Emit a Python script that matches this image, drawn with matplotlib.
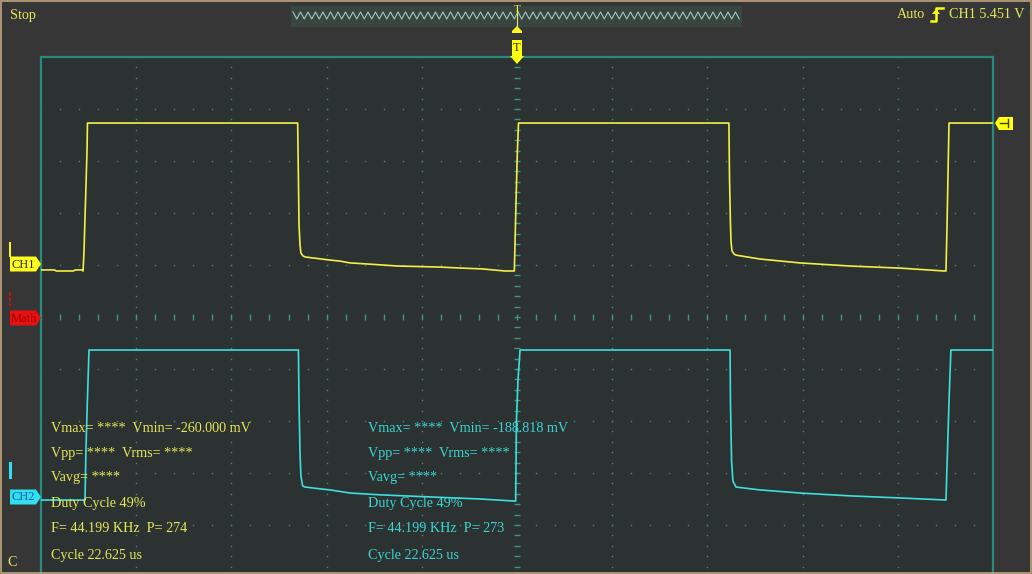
import numpy as np
import matplotlib.pyplot as plt
from matplotlib.patches import Polygon, Rectangle

W, H = 1032, 574

# scope settings
time_per_div = 5.0     # us / div
volts_per_div = 2.0    # V / div
ch1_offset = 1.0       # divisions above screen centre
ch2_offset = -3.48

# CH1 trace: time (us, trigger at 0) and volts
ch1_t = [-25.0, -24.3, -24.2, -23.3, -23.2, -22.85, -22.79, -22.74, -22.69, -22.64,
         -22.58, -22.56, -11.52, -11.48, -11.45, -11.40, -11.35, -11.24, -11.13,
         -10.71, -9.82, -9.30, -8.77, -7.88, -6.25, -4.04, -2.89, -1.84, -0.63,
         -0.14, -0.05, 0.02, 0.08, 11.13, 11.16, 11.21, 11.24, 11.29, 11.40, 11.50,
         12.76, 14.86, 17.49, 20.12, 22.43, 22.53, 22.58, 22.64, 22.69, 25.0]
ch1_v = [-0.19, -0.19, -0.23, -0.23, -0.19, -0.19, -0.23, 0.54, 1.81, 2.96,
         4.50, 5.46, 5.46, 3.35, 1.58, 0.81, 0.46, 0.35, 0.31,
         0.27, 0.19, 0.15, 0.08, 0.04, -0.04, -0.08, -0.12, -0.15, -0.23,
         -0.23, 2.46, 4.38, 5.46, 5.46, 3.40, 1.60, 0.90, 0.55, 0.42, 0.38,
         0.23, 0.08, -0.04, -0.12, -0.23, -0.23, 1.31, 3.62, 5.46, 5.46]

# CH2 trace
ch2_t = [-25.0, -22.72, -22.69, -22.64, -22.58, -22.53, -22.48, -11.48, -11.45,
         -11.40, -11.35, -11.26, -11.13, -10.35, -9.82, -8.77, -7.20, -4.57, -1.94,
         -0.11, -0.07, -0.03, 0.05, 0.16, 11.19, 11.21, 11.27, 11.34, 11.50, 12.76,
         14.86, 17.49, 20.12, 22.53, 22.61, 22.69, 22.79, 25.0]
ch2_v = [-0.08, -0.08, -0.08, 1.81, 3.35, 4.50, 5.69, 5.69, 3.73,
         1.81, 0.85, 0.46, 0.42, 0.35, 0.31, 0.19, 0.12, 0.04, -0.04,
         -0.12, -0.12, 2.96, 4.50, 5.69, 5.69, 3.73, 1.42, 0.65, 0.42, 0.31,
         0.19, 0.08, 0.00, -0.08, 1.81, 3.73, 5.69, 5.69]

meas_ch1 = ["Vmax= ****  Vmin= -260.000 mV", "Vpp= ****  Vrms= ****", "Vavg= ****",
            "Duty Cycle 49%", "F= 44.199 KHz  P= 274", "Cycle 22.625 us"]
meas_ch2 = ["Vmax= ****  Vmin= -188.818 mV", "Vpp= ****  Vrms= ****", "Vavg= ****",
            "Duty Cycle 49%", "F= 44.199 KHz  P= 273", "Cycle 22.625 us"]
meas_rows = [428, 453, 478, 504, 529, 555]

status_text = "Stop"
trig_text = "CH1 5.451 V"

FONT = "Liberation Serif"
FS = 10.2
YEL_TXT = "#e6e65a"
CYAN_TXT = "#3cd4d4"
YEL = "#f0f048"
CYAN = "#3ce0e0"
TEAL = "#2b8a80"
DOT = "#46857e"

fig = plt.figure(figsize=(W / 100, H / 100), dpi=100, facecolor="#363636")

# screen area: 10 x 10 divisions, bottom row cut by the image edge
ax = fig.add_axes([41 / W, 0, 952 / W, 517 / H])
ax.set_facecolor("#2c3232")
ax.set_xlim(-5, 5)
ax.set_ylim(5 - 517 / 52, 5)
ax.set_xticks([])
ax.set_yticks([])
for side in ["left", "right", "top"]:
    ax.spines[side].set_color(TEAL)
    ax.spines[side].set_linewidth(1.6)
ax.spines["bottom"].set_visible(False)

# dotted graticule
steps = np.arange(-25, 26) * 0.2
for g in range(-4, 5):
    if g == 0:
        continue
    ax.plot(np.full_like(steps, g), steps, ls="none", marker="s", ms=1.0, mew=0, color=DOT)
    ax.plot(steps, np.full_like(steps, g), ls="none", marker="s", ms=1.0, mew=0, color=DOT)
# centre lines with small ticks
ax.plot(steps, np.zeros_like(steps), ls="none", marker="|", ms=4, mew=1, color="#3a948a")
ax.plot(np.zeros_like(steps), steps, ls="none", marker="_", ms=4, mew=1, color="#3a948a")

# traces
ax.plot(np.array(ch1_t) / time_per_div, ch1_offset + np.array(ch1_v) / volts_per_div,
        color=YEL, lw=1.2, zorder=4)
ax.plot(np.array(ch2_t) / time_per_div, ch2_offset + np.array(ch2_v) / volts_per_div,
        color=CYAN, lw=1.2, zorder=4)

# overlay in pixel coordinates for the scope UI
ov = fig.add_axes([0, 0, 1, 1], zorder=5)
ov.set_xlim(0, W)
ov.set_ylim(H, 0)
ov.axis("off")
ov.patch.set_alpha(0)

ov.add_patch(Rectangle((0.7, 0.7), W - 1.4, H - 1.4, fill=False, ec="#c2a67e", lw=1.2))

ov.text(10, 15, status_text, color=YEL_TXT, fontsize=FS, family=FONT, va="center")
ov.text(7, 562, "C", color=YEL_TXT, fontsize=FS, family=FONT, va="center")

# memory strip with trigger position
ov.add_patch(Rectangle((291, 6), 451, 21, fc="#38463f", ec="none"))
zx = np.arange(293, 741, 3.75)
zy = np.where(np.arange(len(zx)) % 2 == 0, 12, 19)
ov.plot(zx, zy, color="#a6c4bc", lw=0.8)
ov.plot([517, 517], [7, 30], color="#e8e870", lw=0.8)
ov.text(517, 10, "T", color=YEL, fontsize=8, family=FONT, ha="center", va="center")
ov.add_patch(Polygon([(512, 33), (522, 33), (522, 31), (517, 26), (512, 31)], fc="#ffff10", ec="none"))
ov.add_patch(Polygon([(512, 40), (522, 40), (522, 56), (524, 56), (517, 64), (510, 56), (512, 56)],
                     fc="#ffff10", ec="none"))
ov.text(517, 48, "T", color="#303000", fontsize=9, family=FONT, ha="center", va="center")

# trigger info top right
ov.text(897, 15, "Auto", color=YEL_TXT, fontsize=FS, family=FONT, va="center")
ov.plot([931, 936, 936, 943], [21, 21, 8, 8], color="#ffff10", lw=1.8)
ov.add_patch(Polygon([(932, 14), (940, 14), (936, 9)], fc="#ffff10", ec="none"))
ov.text(949, 15, trig_text, color=YEL_TXT, fontsize=FS, family=FONT, va="center")

# trigger level marker on the right
ov.add_patch(Polygon([(995, 123), (999, 117), (1013, 117), (1013, 130), (999, 130)], fc="#ffff10", ec="none"))
ov.plot([1000, 1008], [123, 123], color="#404000", lw=1)
ov.plot([1008, 1008], [119, 127], color="#404000", lw=1)

# channel markers on the left
markers = [("CH1", 264, "#ffff20", "#303010"), ("Math", 318, "#e81010", "#a00000"),
           ("CH2", 497, "#30e0f0", "#1a5aa8")]
for label, yc, fc, tc in markers:
    ov.add_patch(Polygon([(10, yc - 7.5), (36, yc - 7.5), (41, yc), (36, yc + 7.5), (10, yc + 7.5)],
                         fc=fc, ec="none"))
    ov.text(11, yc + 0.5, label, color=tc, fontsize=9, family=FONT, va="center")
ov.plot([10, 10], [243, 256], color="#ffff20", lw=1.4)
ov.plot([10, 10], [292, 306], color="#d01010", lw=1.4, ls=(0, (2, 1)))
ov.plot([10, 10], [463, 477], color="#30e0f0", lw=2.2)

# measurement read-outs
for row, s in zip(meas_rows, meas_ch1):
    ov.text(51, row, s, color=YEL_TXT, fontsize=FS, family=FONT, va="center")
for row, s in zip(meas_rows, meas_ch2):
    ov.text(368, row, s, color=CYAN_TXT, fontsize=FS, family=FONT, va="center")

fig.savefig("out.png", dpi=100, facecolor=fig.get_facecolor())
